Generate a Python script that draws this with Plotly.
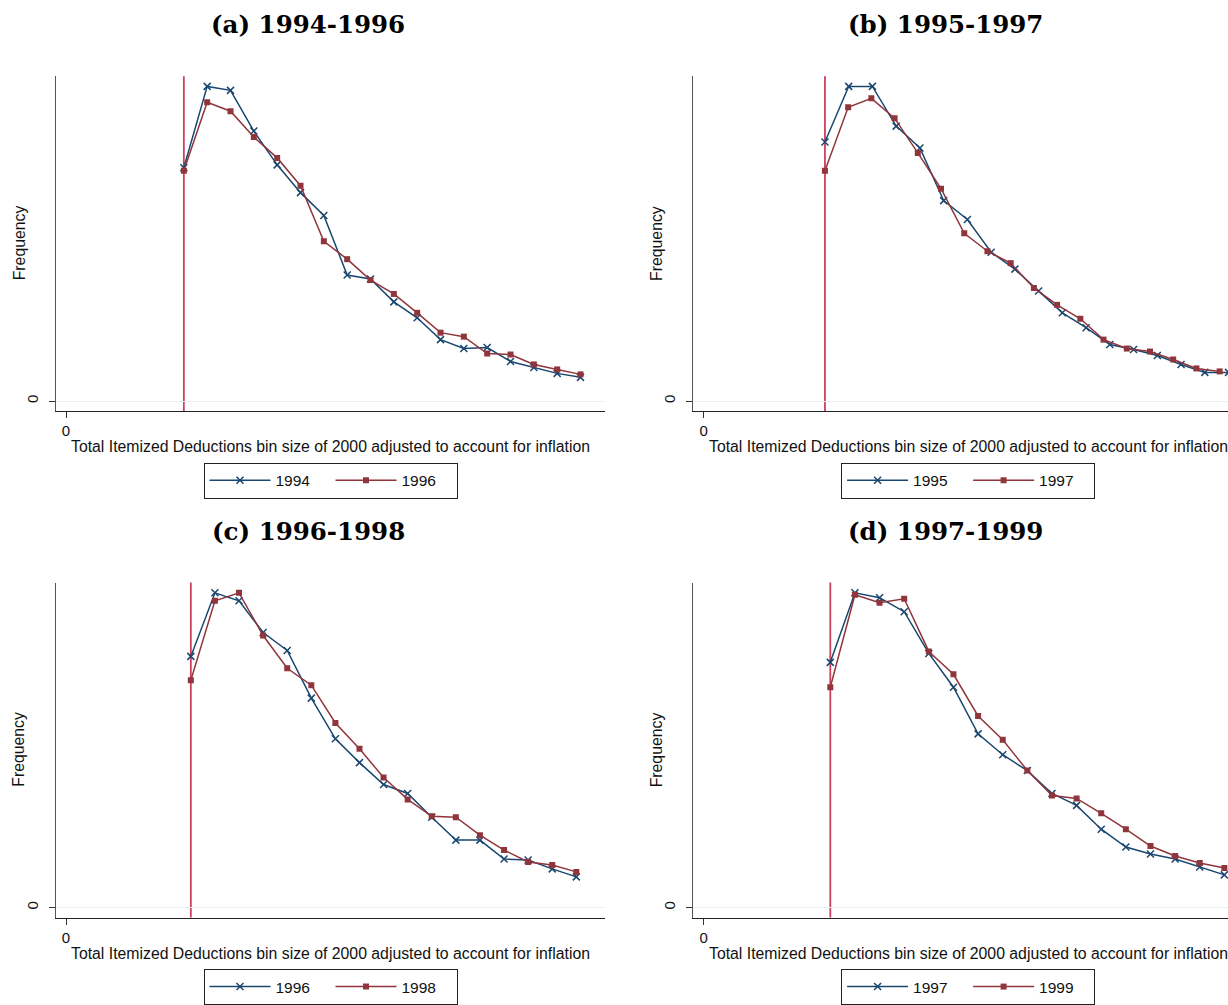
import plotly.graph_objects as go

# ---------------- data ----------------
# x = bin position in inflation-adjusted dollars, y = frequency (arbitrary units)
a_x = [10100, 12100, 14100, 16100, 18100, 20100, 22100, 24100, 26100,
       28100, 30100, 32100, 34100, 36100, 38100, 40100, 42100, 44100]
a_1994 = [235, 317, 313, 272, 238, 210, 187, 127, 123, 100, 84, 62, 53, 54, 40, 34, 28, 24]
a_1996 = [232, 301, 292, 266, 245, 217, 161, 143, 122, 108, 89, 69, 65, 48, 47, 37, 32, 27]

b_x_1995 = [10400, 12435, 14470, 16505, 18540, 20575, 22610, 24645, 26680,
            28715, 30750, 32785, 34820, 36855, 38890, 40925, 42960, 44995]
b_x_1997 = [10400, 12390, 14380, 16370, 18360, 20350, 22340, 24330, 26320,
            28310, 30300, 32290, 34280, 36270, 38260, 40250, 42240, 44230]
b_1995 = [261, 317, 317, 277, 255, 202, 183, 150, 133, 111, 89, 74, 57, 52, 46, 37, 29, 29]
b_1997 = [232, 296, 305, 285, 250, 214, 169, 151, 139, 114, 97, 83, 62, 53, 50, 42, 33, 30]

c_x = [10700, 12765, 14830, 16895, 18960, 21025, 23090, 25155, 27220,
       29285, 31350, 33415, 35480, 37545, 39610, 41675, 43740]
c_1996 = [253, 317, 309, 277, 259, 211, 170, 146, 124, 115, 91, 68, 68, 49, 48, 39, 31]
c_1998 = [229, 309, 317, 274, 241, 224, 186, 160, 131, 109, 92, 91, 73, 58, 46, 43, 36]

d_x = [10860, 12971, 15082, 17193, 19304, 21415, 23526, 25637, 27748,
       29859, 31970, 34081, 36192, 38303, 40414, 42525, 44636]
d_1997 = [247, 317, 312, 298, 256, 222, 175, 154, 138, 115, 103, 79, 61, 54, 49, 41, 33]
d_1999 = [222, 315, 307, 311, 258, 235, 193, 169, 138, 113, 110, 95, 79, 62, 52, 45, 40]

thresholds = [10100, 10400, 10700, 10860]
panel_titles = ["(a) 1994-1996", "(b) 1995-1997", "(c) 1996-1998", "(d) 1997-1999"]
series_names = [("1994", "1996"), ("1995", "1997"), ("1996", "1998"), ("1997", "1999")]
x_title = "Total Itemized Deductions bin size of 2000 adjusted to account for inflation"
y_title = "Frequency"

# ---------------- layout geometry (pixels) ----------------
W, H = 1228, 1005
NAVY = "#1a476f"
MAROON = "#90353b"
VLINE = "#cf3f5e"
SANS = "Liberation Sans, Arial, sans-serif"
SERIF = "DejaVu Serif, serif"

dx = 637.6          # horizontal offset between left and right panels
dy = 510            # vertical offset between top and bottom panels
px_left, px_right = 55.7, 605.0
py_top, py_bot = 76.7, 414.0
px_zero = 66.0
px_per_k = 11.667

def px2paper_x(p):
    return p / W

def px2paper_y(p):
    return 1 - p / H

panels = [
    (a_x, a_1994, a_x, a_1996),
    (b_x_1995, b_1995, b_x_1997, b_1997),
    (c_x, c_1996, c_x, c_1998),
    (d_x, d_1997, d_x, d_1999),
]
offsets = [(0, 0), (dx, 0), (0, dy), (dx, dy)]

fig = go.Figure()
layout = dict(
    width=W, height=H, margin=dict(l=0, r=0, t=0, b=0),
    paper_bgcolor="white", plot_bgcolor="white",
    annotations=[], shapes=[],
)

yrange = [-10, 327.3]
for i, ((xb, yb, xr, yr), (ox, oy)) in enumerate(zip(panels, offsets)):
    n = i + 1
    xa = "x" if n == 1 else f"x{n}"
    ya = "y" if n == 1 else f"y{n}"
    leg = "legend" if n == 1 else f"legend{n}"
    left = px_left + ox
    right = min(px_right + ox, W)
    zero = px_zero + ox
    xmin = (left - zero) / px_per_k * 1000
    xmax = (right - zero) / px_per_k * 1000

    nb, nr = series_names[i]
    fig.add_trace(go.Scatter(
        x=xb, y=yb, mode="lines+markers", name=nb, xaxis=xa, yaxis=ya, legend=leg,
        line=dict(color=NAVY, width=1.5),
        marker=dict(symbol="x-thin", size=7, color=NAVY, line=dict(color=NAVY, width=1.5)),
    ))
    fig.add_trace(go.Scatter(
        x=xr, y=yr, mode="lines+markers", name=nr, xaxis=xa, yaxis=ya, legend=leg,
        line=dict(color=MAROON, width=1.5),
        marker=dict(symbol="square", size=6, color=MAROON),
    ))

    xkey = "xaxis" if n == 1 else f"xaxis{n}"
    ykey = "yaxis" if n == 1 else f"yaxis{n}"
    layout[xkey] = dict(
        domain=[px2paper_x(left), px2paper_x(right)],
        anchor=ya, range=[xmin, xmax],
        tickmode="array", tickvals=[0], ticktext=["0"],
        ticks="outside", ticklen=6, tickwidth=1, tickcolor="#333333",
        tickfont=dict(family=SANS, size=15, color="#111111"),
        showline=True, linecolor="#222222", linewidth=1.4,
        showgrid=False, zeroline=False,
    )
    layout[ykey] = dict(
        domain=[px2paper_y(py_bot + oy), px2paper_y(py_top + oy)],
        anchor=xa, range=yrange,
        tickmode="array", tickvals=[0], ticktext=["0"], tickangle=-90,
        ticks="outside", ticklen=6, tickwidth=1, tickcolor="#333333",
        tickfont=dict(family=SANS, size=15, color="#111111"),
        ticklabelstandoff=5,
        showline=True, linecolor="#555555", linewidth=1.4,
        showgrid=True, gridcolor="#e6eff2", gridwidth=1, zeroline=False,
    )

    # vertical threshold line
    layout["shapes"].append(dict(
        type="line", xref=xa, yref=f"{ya} domain",
        x0=thresholds[i], x1=thresholds[i], y0=0, y1=1,
        line=dict(color=VLINE, width=1.8), layer="below",
    ))

    # panel title
    layout["annotations"].append(dict(
        text=f"<b>{panel_titles[i]}</b>", xref="paper", yref="paper",
        x=px2paper_x(308 + ox), y=px2paper_y(25 + oy), xanchor="center", yanchor="middle",
        showarrow=False, font=dict(family=SERIF, size=24.5, color="black"),
    ))
    # x title
    layout["annotations"].append(dict(
        text=x_title, xref="paper", yref="paper",
        x=px2paper_x(330.4 + ox), y=px2paper_y(450 + oy), xanchor="center", yanchor="middle",
        showarrow=False, font=dict(family=SANS, size=15.8, color="#111111"),
    ))
    # y title
    layout["annotations"].append(dict(
        text=y_title, xref="paper", yref="paper", textangle=-90,
        x=px2paper_x(19 + ox), y=px2paper_y(245 + oy), xanchor="center", yanchor="middle",
        showarrow=False, font=dict(family=SANS, size=15.8, color="#111111"),
    ))

    # legend
    layout[leg] = dict(
        x=px2paper_x(330.5 + ox), y=px2paper_y(466 + oy), xanchor="center", yanchor="top",
        orientation="h", bordercolor="#222222", borderwidth=1, bgcolor="white",
        font=dict(family=SANS, size=15.5, color="#111111"),
        entrywidth=50, entrywidthmode="pixels", itemwidth=61,
    )

fig.update_layout(**layout)
fig.update_layout(showlegend=True)
fig.write_html("out.html")
